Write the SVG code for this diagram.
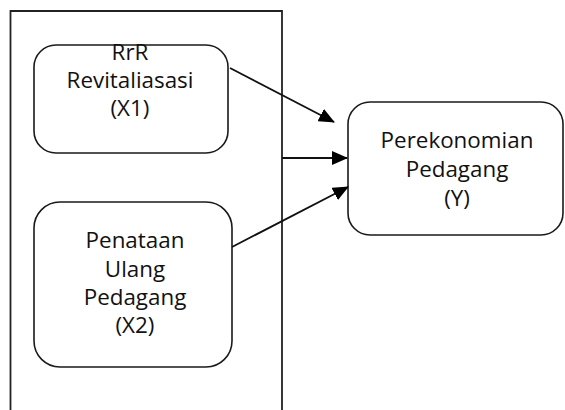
<svg xmlns="http://www.w3.org/2000/svg" width="565" height="410" viewBox="0 0 565 410">
<style>
.box{fill:#fff;stroke:#1a1a1a;stroke-width:1.6}
.frame{fill:none;stroke:#222;stroke-width:1.8}
.lbl{font-family:"Open Sans","Noto Sans",sans-serif;font-size:22.4px;fill:#111;text-anchor:middle}
.conn{stroke:#111;stroke-width:1.8;fill:none}
</style>
<defs>
<marker id="arr" markerUnits="userSpaceOnUse" markerWidth="16" markerHeight="14" viewBox="0 0 16 14" refX="15" refY="7" orient="auto">
<path d="M0,0 L16,7 L0,14 Z" fill="#000"/>
</marker>
</defs>
<path class="frame" d="M10.5,410 V11 H282 V410"/>
<g id="x1">
<rect class="box" x="34" y="45" width="194" height="108" rx="22"/>
<text class="lbl" x="130" y="59.5">RrR</text>
<text class="lbl" x="130" y="88">Revitaliasasi</text>
<text class="lbl" x="130" y="116">(X1)</text>
</g>
<g id="x2">
<rect class="box" x="34" y="202" width="198" height="165" rx="26"/>
<text class="lbl" x="135" y="247.5">Penataan</text>
<text class="lbl" x="135" y="276.5">Ulang</text>
<text class="lbl" x="135" y="305">Pedagang</text>
<text class="lbl" x="135" y="333">(X2)</text>
</g>
<g id="y">
<rect class="box" x="348" y="102" width="215" height="133" rx="22"/>
<text class="lbl" x="457" y="147.5">Perekonomian</text>
<text class="lbl" x="457" y="176.5">Pedagang</text>
<text class="lbl" x="457" y="206">(Y)</text>
</g>
<g id="connectors">
<line class="conn" x1="230" y1="68" x2="334" y2="122" marker-end="url(#arr)"/>
<line class="conn" x1="282" y1="158" x2="347" y2="158" marker-end="url(#arr)"/>
<line class="conn" x1="232" y1="247" x2="348" y2="187" marker-end="url(#arr)"/>
</g>
</svg>
